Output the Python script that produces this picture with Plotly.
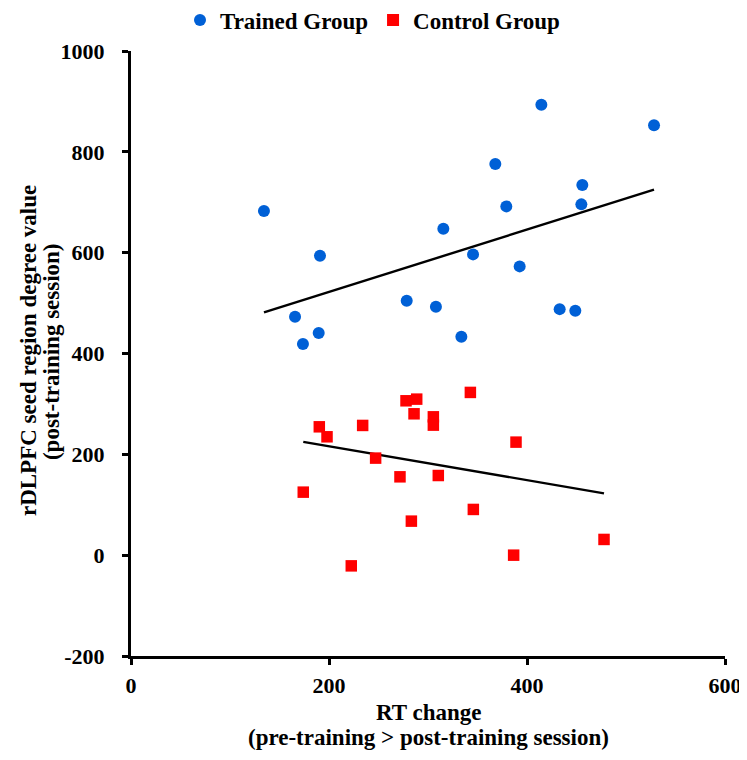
import numpy as np
import plotly.graph_objects as go

trained_x = [134.3, 190.9, 165.7, 189.6, 173.7, 278.5, 308.0, 414.5, 528.3, 368.0,
             455.9, 454.9, 379.1, 315.5, 345.5, 392.6, 433.0, 448.8, 333.7]
trained_y = [682.5, 594.0, 473.0, 440.5, 418.7, 504.6, 492.7, 893.5, 852.6, 775.8,
             734.0, 695.8, 691.8, 647.5, 596.6, 572.8, 488.0, 484.7, 433.0]

control_x = [190.2, 198.0, 234.0, 277.8, 288.6, 285.9, 305.4, 305.4, 247.1, 271.7,
             310.4, 283.2, 174.0, 222.5, 342.8, 388.9, 345.8, 477.8, 386.5]
control_y = [254.6, 234.8, 257.3, 306.2, 309.5, 280.4, 274.4, 257.9, 192.5, 155.4,
             158.0, 67.5, 125.0, -21.2, 322.8, 224.2, 90.7, 31.2, 0.0]

x_ticks = [0, 200, 400, 600]
y_ticks = [-200, 0, 200, 400, 600, 800, 1000]

x_title_lines = ["RT change", "(pre-training > post-training session)"]
y_title_lines = ["rDLPFC seed region degree value", "(post-training session)"]

FONT = "Liberation Serif"


def fit_line(xs, ys):
    xs = np.asarray(xs); ys = np.asarray(ys)
    m, b = np.polyfit(xs, ys, 1)
    lx = np.array([xs.min(), xs.max()])
    return lx, m * lx + b


fig = go.Figure()

tx, ty = fit_line(trained_x, trained_y)
cx, cy = fit_line(control_x, control_y)

fig.add_trace(go.Scatter(x=tx, y=ty, mode="lines", line=dict(color="black", width=2.4),
                         showlegend=False, hoverinfo="skip"))
fig.add_trace(go.Scatter(x=cx, y=cy, mode="lines", line=dict(color="black", width=2.4),
                         showlegend=False, hoverinfo="skip"))

fig.add_trace(go.Scatter(x=trained_x, y=trained_y, mode="markers", name="Trained Group",
                         marker=dict(symbol="circle", size=12, color="#0060D6",
                                     line=dict(width=0))))
fig.add_trace(go.Scatter(x=control_x, y=control_y, mode="markers", name="Control Group",
                         marker=dict(symbol="square", size=11.5, color="#FF0000",
                                     line=dict(width=0))))

axis_common = dict(showgrid=False, zeroline=False, showline=True, linecolor="black",
                   linewidth=3, ticks="outside", ticklen=6, tickwidth=2.5, tickcolor="black",
                   tickfont=dict(family=FONT, size=22, color="black", weight="bold"))

fig.update_xaxes(range=[0, 600], tickvals=x_ticks, ticktext=[str(v) for v in x_ticks],
                 ticklabelstandoff=2, **axis_common)
fig.update_yaxes(range=[-200, 1000], tickvals=y_ticks, ticktext=[str(v) for v in y_ticks],
                 ticklabelstandoff=13, **axis_common)

title_font = dict(family=FONT, size=23, color="black", weight="bold")
# x-axis title lines (below plot)
for text, yy in zip(x_title_lines, [-0.0926, -0.1339]):
    fig.add_annotation(text=text, xref="paper", yref="paper", x=0.5, y=yy,
                       xanchor="center", yanchor="middle", showarrow=False, font=title_font)
# y-axis title lines (rotated, left of plot)
for text, xx in zip(y_title_lines, [-0.1734, -0.1347]):
    fig.add_annotation(text=text, xref="paper", yref="paper", x=xx, y=0.504,
                       xanchor="center", yanchor="middle", showarrow=False,
                       textangle=-90, font=title_font)

fig.update_layout(
    width=747, height=760,
    margin=dict(l=123, r=30, t=43, b=112, autoexpand=False),
    plot_bgcolor="white", paper_bgcolor="white",
    legend=dict(orientation="h", xref="container", yref="container",
                x=172 / 747, xanchor="left", y=1 - 12 / 760, yanchor="middle",
                font=dict(family=FONT, size=23, color="black", weight="bold"),
                itemsizing="constant", itemwidth=30, tracegroupgap=0),
)

fig.write_html("out.html")
